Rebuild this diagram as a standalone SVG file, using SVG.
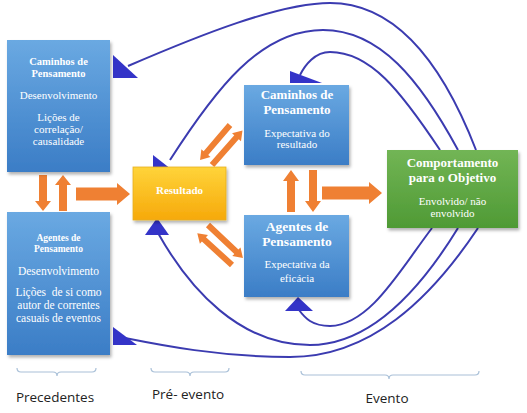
<svg xmlns="http://www.w3.org/2000/svg" width="527" height="413" viewBox="0 0 527 413">
<defs>
<linearGradient id="gBlue" x1="0" y1="0" x2="0" y2="1"><stop offset="0" stop-color="#6aa9e2"/><stop offset="1" stop-color="#3b7dc6"/></linearGradient>
<linearGradient id="gGold" x1="0" y1="0" x2="0" y2="1"><stop offset="0" stop-color="#ffd43a"/><stop offset="1" stop-color="#f6a90a"/></linearGradient>
<linearGradient id="gGreen" x1="0" y1="0" x2="0" y2="1"><stop offset="0" stop-color="#72b555"/><stop offset="1" stop-color="#4f9a35"/></linearGradient>
<filter id="sh" x="-10%" y="-10%" width="130%" height="130%"><feDropShadow dx="1.5" dy="2.5" stdDeviation="1.8" flood-color="#000" flood-opacity="0.3"/></filter>
</defs>
<style>
.box{filter:url(#sh)}
.blue{fill:url(#gBlue)}
.t{font-family:"Liberation Serif","Times New Roman",serif;fill:#fff;text-anchor:middle}
.b{font-weight:bold}
.oa{fill:#ef8033}
.cv{fill:none;stroke:#3b3bb0;stroke-width:2}
.ah{fill:#3434c8}
.br{fill:none;stroke:#a9c0d8;stroke-width:1.2}
.lb{font-family:"Open Sans","Liberation Sans",sans-serif;font-size:13.5px;fill:#222;text-anchor:middle}
</style>
<rect width="527" height="413" fill="#fff"/>

<g id="connectors">
<path class="cv" d="M476,150 C445,70 400,3 330,3 C280,3 200,35 128,66"/>
<polygon class="ah" points="113,55 138,78 113,78"/>
<path class="cv" d="M458,150 C420,80 380,30 323,30 C260,30 215,90 170,160"/>
<polygon class="ah" points="153,155 176,173 153,173"/>
<path class="cv" d="M440,150 C400,90 370,52 330,52 C315,52 305,65 300,75"/>
<polygon class="ah" points="290,71 322,83 290,83"/>
<path class="cv" d="M432,228 C400,270 370,325 330,326 C312,326 305,318 299,310"/>
<polygon class="ah" points="298,297 285,311 313,311"/>
<path class="cv" d="M458,228 C420,290 370,345 310,345 C240,345 190,290 158,233"/>
<polygon class="ah" points="157,218 145,235 169,235"/>
<path class="cv" d="M478,228 C430,300 370,357 290,357 C220,357 160,345 125,338"/>
<polygon class="ah" points="113,327 137,345 113,345"/>

<path class="oa" transform="translate(43,175) rotate(90)" d="M0,-4 L26,-4 L26,-8 L36,0 L26,8 L26,4 L0,4Z"/>
<path class="oa" transform="translate(63,211) rotate(-90)" d="M0,-4 L26,-4 L26,-8 L36,0 L26,8 L26,4 L0,4Z"/>
<path class="oa" transform="translate(76,194)" d="M0,-6.5 L41,-6.5 L41,-11 L54,0 L41,11 L41,6.5 L0,6.5Z"/>
<path class="oa" transform="translate(291,212) rotate(-90)" d="M0,-4 L31,-4 L31,-8 L42,0 L31,8 L31,4 L0,4Z"/>
<path class="oa" transform="translate(313,170) rotate(90)" d="M0,-4 L31,-4 L31,-8 L42,0 L31,8 L31,4 L0,4Z"/>
<path class="oa" transform="translate(322,193)" d="M0,-6.5 L47,-6.5 L47,-11 L60,0 L47,11 L47,6.5 L0,6.5Z"/>
<path class="oa" transform="translate(230,125) rotate(130.6)" d="M0,-3 L37,-3 L37,-6 L46,0 L37,6 L37,3 L0,3Z"/>
<path class="oa" transform="translate(212,165) rotate(-48.5)" d="M0,-3 L37,-3 L37,-6 L46,0 L37,6 L37,3 L0,3Z"/>
<path class="oa" transform="translate(232,265) rotate(-137.6)" d="M0,-3 L38,-3 L38,-6 L47,0 L38,6 L38,3 L0,3Z"/>
<path class="oa" transform="translate(208,225) rotate(43.3)" d="M0,-3 L39,-3 L39,-6 L48,0 L39,6 L39,3 L0,3Z"/>
</g>

<g id="caminhos-precedentes">
<rect class="box blue" x="7" y="40" width="103" height="132"/>
<text class="t b" x="58.5" y="65" font-size="10.5">Caminhos de</text>
<text class="t b" x="58.5" y="77" font-size="10.5">Pensamento</text>
<text class="t" x="58.5" y="99" font-size="11">Desenvolvimento</text>
<text class="t" x="58.5" y="121" font-size="11">Lições de</text>
<text class="t" x="58.5" y="133" font-size="11">correlação/</text>
<text class="t" x="58.5" y="145" font-size="11">causalidade</text>
</g>

<g id="agentes-precedentes">
<rect class="box blue" x="7" y="212" width="103" height="143"/>
<text class="t b" x="58.5" y="241" font-size="9.5">Agentes de</text>
<text class="t b" x="58.5" y="252" font-size="9.5">Pensamento</text>
<text class="t" x="58.5" y="275" font-size="11.5">Desenvolvimento</text>
<text class="t" x="58.5" y="296" font-size="11.5" xml:space="preserve">Lições  de si como</text>
<text class="t" x="58.5" y="309" font-size="11.5">autor de correntes</text>
<text class="t" x="58.5" y="322" font-size="11.5">casuais de eventos</text>
</g>

<g id="resultado">
<rect class="box" x="133" y="167" width="93" height="53" fill="url(#gGold)" stroke="#e6b020" stroke-width="0.8"/>
<text class="t b" x="179.5" y="194" font-size="11">Resultado</text>
</g>

<g id="caminhos-evento">
<rect class="box blue" x="244" y="85" width="105" height="80"/>
<text class="t b" x="297" y="99" font-size="13">Caminhos de</text>
<text class="t b" x="297" y="114" font-size="13">Pensamento</text>
<text class="t" x="297" y="137" font-size="11">Expectativa do</text>
<text class="t" x="297" y="148" font-size="11">resultado</text>
</g>

<g id="agentes-evento">
<rect class="box blue" x="244" y="215" width="105" height="82"/>
<text class="t b" x="297" y="231" font-size="13.5">Agentes de</text>
<text class="t b" x="297" y="246" font-size="13.5">Pensamento</text>
<text class="t" x="297" y="268" font-size="11">Expectativa da</text>
<text class="t" x="297" y="282" font-size="11">eficácia</text>
</g>

<g id="comportamento">
<rect class="box" x="387" y="150" width="131" height="78" fill="url(#gGreen)"/>
<text class="t b" x="452.5" y="167" font-size="13">Comportamento</text>
<text class="t b" x="452.5" y="182" font-size="13">para o Objetivo</text>
<text class="t" x="452.5" y="205" font-size="11">Envolvido/ não</text>
<text class="t" x="452.5" y="217" font-size="11">envolvido</text>
</g>

<g id="brackets">
<path class="br" d="M17,368 Q17,372 21,372 L53,372 Q57,372 57,376 Q57,372 61,372 L92,372 Q96,372 96,368"/>
<path class="br" d="M151,368 Q151,372 155,372 L186,372 Q190,372 190,376 Q190,372 194,372 L225,372 Q229,372 229,368"/>
<path class="br" d="M301,371 Q301,375 305,375 L385,375 Q389,375 389,379 Q389,375 393,375 L475,375 Q479,375 479,371"/>
<text class="lb" x="55" y="402">Precedentes</text>
<text class="lb" x="188" y="399">Pré- evento</text>
<text class="lb" x="387" y="403">Evento</text>
</g>
</svg>
